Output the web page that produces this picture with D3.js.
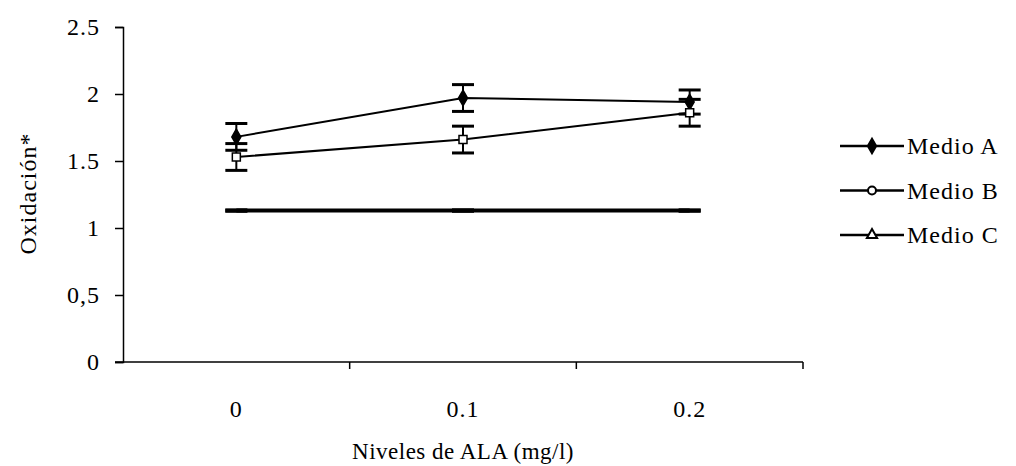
<!DOCTYPE html>
<html>
<head>
<meta charset="utf-8">
<script src="https://cdnjs.cloudflare.com/ajax/libs/d3/7.8.5/d3.min.js"></script>
<style>
  body { margin: 0; background: #fff; }
  text { font-family: "Liberation Serif", "DejaVu Serif", serif; fill: #000; }
</style>
</head>
<body>
<div id="chart"></div>
<script>
// data
var levels = ["0", "0.1", "0.2"];
var seriesNames = ["Medio A", "Medio B", "Medio C"];
var medioA = [1.68, 1.97, 1.94];
var medioAErr = [0.10, 0.10, 0.09];
var medioB = [1.53, 1.66, 1.86];
var medioBErr = [0.10, 0.10, 0.10];
var medioC = [1.13, 1.13, 1.13];
var medioCErr = [0.00, 0.00, 0.00];
var yTicks = [0, 0.5, 1, 1.5, 2, 2.5];
var yTickLabels = ["0", "0,5", "1", "1.5", "2", "2.5"];

var width = 1016, height = 466;
var margin = { top: 27, right: 213, bottom: 104, left: 123 };

var svg = d3.select("#chart").append("svg")
    .attr("width", width)
    .attr("height", height);

var x = d3.scaleBand().domain(levels)
    .range([margin.left, width - margin.right]);
var y = d3.scaleLinear().domain([0, 2.5])
    .range([height - margin.bottom, margin.top]);

// y axis
var yAxis = svg.append("g")
    .attr("transform", "translate(" + margin.left + ",0)")
    .call(d3.axisLeft(y).tickValues(yTicks)
        .tickFormat(function (d, i) { return yTickLabels[i]; })
        .tickSize(8).tickPadding(15));
yAxis.select(".domain").attr("stroke", "#000").attr("stroke-width", 1.5);
yAxis.selectAll(".tick line").attr("stroke-width", 1.5);
yAxis.selectAll("text").style("font-size", "24px")
    .style("letter-spacing", "1px")
    .style("font-family", "Liberation Serif");

// x axis: labels centred in bands, tick marks on band edges
var xAxis = svg.append("g")
    .attr("transform", "translate(0," + y(0) + ")")
    .call(d3.axisBottom(x).tickSize(0).tickPadding(38));
xAxis.select(".domain").attr("stroke", "#000").attr("stroke-width", 1.5)
    .attr("d", "M" + (margin.left - 8) + ",0H" + (width - margin.right));
xAxis.selectAll("text").style("font-size", "24px")
    .style("letter-spacing", "1px")
    .style("font-family", "Liberation Serif");
xAxis.selectAll(".edge")
    .data(levels)
    .enter().append("line")
    .attr("class", "edge")
    .attr("x1", function (d) { return x(d) + x.bandwidth(); })
    .attr("x2", function (d) { return x(d) + x.bandwidth(); })
    .attr("y1", 0).attr("y2", 7)
    .attr("stroke", "#000").attr("stroke-width", 1.5);

// axis titles
svg.append("text")
    .attr("transform", "translate(28," + (y(1.25) - 1) + ") rotate(-90)")
    .attr("text-anchor", "middle")
    .attr("dy", "0.35em")
    .style("font-size", "24px")
    .style("letter-spacing", "1px")
    .text("Oxidación*");

svg.append("text")
    .attr("x", x("0.1") + x.bandwidth() / 2)
    .attr("y", 459)
    .attr("text-anchor", "middle")
    .style("font-size", "23px")
    .style("letter-spacing", "0.5px")
    .text("Niveles de ALA (mg/l)");

var cx = function (d, i) { return x(levels[i]) + x.bandwidth() / 2; };
var line = d3.line()
    .x(function (d, i) { return cx(d, i); })
    .y(function (d) { return y(d); });

var series = [
    { name: seriesNames[0], vals: medioA, err: medioAErr, marker: "diamond", width: 2 },
    { name: seriesNames[1], vals: medioB, err: medioBErr, marker: "square", width: 2 },
    { name: seriesNames[2], vals: medioC, err: medioCErr, marker: "none", width: 4 }
];

// lines
series.forEach(function (s) {
    svg.append("path")
        .datum(s.vals)
        .attr("d", line)
        .attr("fill", "none")
        .attr("stroke", "#000")
        .attr("stroke-width", s.width);
});

// error bars
series.forEach(function (s) {
    var g = svg.append("g");
    s.vals.forEach(function (v, i) {
        var px = cx(v, i);
        if (s.err[i] > 0) {
            g.append("line")
                .attr("x1", px).attr("x2", px)
                .attr("y1", y(v - s.err[i])).attr("y2", y(v + s.err[i]))
                .attr("stroke", "#000").attr("stroke-width", 2);
        }
        [v - s.err[i], v + s.err[i]].forEach(function (e) {
            g.append("line")
                .attr("x1", px - 11).attr("x2", px + 11)
                .attr("y1", y(e)).attr("y2", y(e))
                .attr("stroke", "#000").attr("stroke-width", s.err[i] > 0 ? 3 : 4);
        });
    });
});

// markers
var diamond = d3.symbol().type(d3.symbolDiamond).size(70);
var square = d3.symbol().type(d3.symbolSquare).size(64);
series.forEach(function (s) {
    if (s.marker === "none") return;
    svg.selectAll(".m-" + s.marker)
        .data(s.vals)
        .enter().append("path")
        .attr("class", "m-" + s.marker)
        .attr("transform", function (d, i) { return "translate(" + cx(d, i) + "," + y(d) + ")"; })
        .attr("d", s.marker === "diamond" ? diamond : square)
        .attr("fill", s.marker === "diamond" ? "#000" : "#fff")
        .attr("stroke", "#000")
        .attr("stroke-width", 1.5);
});

// legend
var legend = svg.selectAll(".legend")
    .data(series)
    .enter().append("g")
    .attr("class", "legend")
    .attr("transform", function (d, i) { return "translate(840," + (146 + i * 44.5) + ")"; });

legend.append("line")
    .attr("x1", 0).attr("x2", 64)
    .attr("stroke", "#000").attr("stroke-width", 2.5);

legend.append("path")
    .attr("transform", "translate(32,0)")
    .attr("d", function (d) {
        if (d.marker === "diamond") return d3.symbol().type(d3.symbolDiamond).size(60)();
        if (d.marker === "square") return d3.symbol().type(d3.symbolCircle).size(50)();
        return d3.symbol().type(d3.symbolTriangle).size(45)();
    })
    .attr("fill", function (d) { return d.marker === "diamond" ? "#000" : "#fff"; })
    .attr("stroke", "#000").attr("stroke-width", 2);

legend.append("text")
    .attr("x", 67)
    .attr("dy", "0.35em")
    .style("font-size", "24px")
    .style("letter-spacing", "1px")
    .text(function (d) { return d.name; });
</script>
</body>
</html>
